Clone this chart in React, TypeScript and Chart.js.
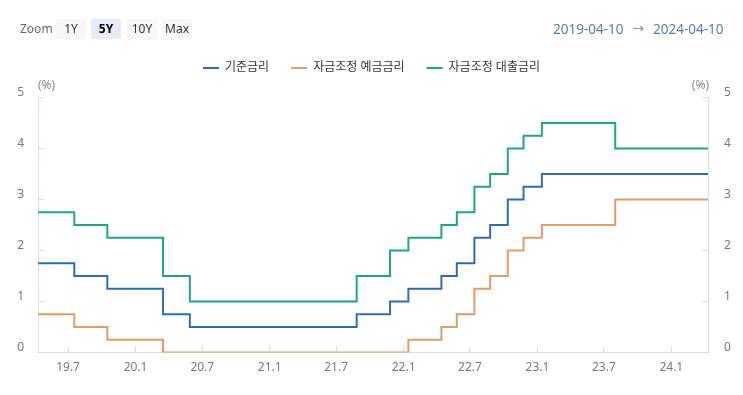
import React, { useEffect, useRef } from 'react';
import { Chart, registerables } from 'chart.js';

Chart.register(...registerables);

// ---------- data ----------
const RANGE_START = '2019-04-10';
const RANGE_END = '2024-04-10';

const BASE_DATES = [
  '2019-04-10', '2019-07-18', '2019-10-16', '2020-03-16', '2020-05-28', '2021-08-26',
  '2021-11-25', '2022-01-14', '2022-04-14', '2022-05-26', '2022-07-13', '2022-08-25',
  '2022-10-12', '2022-11-24', '2023-01-13', '2024-04-10',
];
const BASE_RATE = [1.75, 1.5, 1.25, 0.75, 0.5, 0.75, 1.0, 1.25, 1.5, 1.75, 2.25, 2.5, 3.0, 3.25, 3.5, 3.5];

const ADJ_DATES = [
  '2019-04-10', '2019-07-18', '2019-10-16', '2020-03-16', '2020-05-28', '2021-08-26',
  '2021-11-25', '2022-01-14', '2022-04-14', '2022-05-26', '2022-07-13', '2022-08-25',
  '2022-10-12', '2022-11-24', '2023-01-13', '2023-08-01', '2024-04-10',
];
const DEPOSIT_RATE = [0.75, 0.5, 0.25, 0, 0, 0, 0, 0.25, 0.5, 0.75, 1.25, 1.5, 2.0, 2.25, 2.5, 3.0, 3.0];
const LENDING_RATE = [2.75, 2.5, 2.25, 1.5, 1.0, 1.5, 2.0, 2.25, 2.5, 2.75, 3.25, 3.5, 4.0, 4.25, 4.5, 4.0, 4.0];

const SERIES_NAMES = ['기준금리', '자금조정 예금금리', '자금조정 대출금리'];

const X_TICK_DATES = [
  '2019-07-01', '2020-01-01', '2020-07-01', '2021-01-01', '2021-07-01',
  '2022-01-01', '2022-07-01', '2023-01-01', '2023-07-01', '2024-01-01',
];
const X_TICK_LABELS = ['19.7', '20.1', '20.7', '21.1', '21.7', '22.1', '22.7', '23.1', '23.7', '24.1'];
const Y_MIN = 0;
const Y_MAX = 5;
const Y_STEP = 1;
const UNIT_LABEL = '(%)';

const ZOOM_LABEL = 'Zoom';
const ZOOM_BUTTONS = ['1Y', '5Y', '10Y', 'Max'];
const ZOOM_SELECTED = '5Y';
const RANGE_ARROW = '→';

// ---------- styles ----------
const FONT = '"Noto Sans", "Noto Sans CJK KR", sans-serif';
const COLORS = ['#2b6cb5', '#e39c66', '#1fa68a'];
const AXIS_COLOR = '#d6ddeb';
const TICK_TEXT = '#777777';

const W = 743;
const H = 395;

const toPoints = (dates: string[], vals: number[]) =>
  dates.map((d, i) => ({ x: Date.parse(d), y: vals[i] }));

const legendFixPlugin = {
  id: 'legendFix',
  beforeLayout(chart: any) {
    const lg = chart.legend;
    if (lg && !lg._fixed) {
      const orig = lg.fit.bind(lg);
      lg.fit = () => {
        orig();
        lg.height = 57.5;
      };
      lg._fixed = true;
    }
  },
};

const unitPlugin = {
  id: 'unitLabels',
  afterDraw(chart: any) {
    const { ctx, chartArea } = chart;
    ctx.save();
    ctx.font = `12px ${FONT}`;
    ctx.fillStyle = '#888888';
    ctx.textBaseline = 'middle';
    ctx.textAlign = 'left';
    ctx.fillText(UNIT_LABEL, chartArea.left, 86);
    ctx.textAlign = 'right';
    ctx.fillText(UNIT_LABEL, chartArea.right + 1, 86);
    ctx.restore();
  },
};

export default function App() {
  const ref = useRef<HTMLCanvasElement>(null);

  useEffect(() => {
    const values = [
      toPoints(BASE_DATES, BASE_RATE),
      toPoints(ADJ_DATES, DEPOSIT_RATE),
      toPoints(ADJ_DATES, LENDING_RATE),
    ];
    const chart = new Chart(ref.current as HTMLCanvasElement, {
      type: 'line',
      data: {
        datasets: values.map((data, i) => ({
          label: SERIES_NAMES[i],
          data,
          borderColor: COLORS[i],
          backgroundColor: COLORS[i],
          borderWidth: 2,
          pointRadius: 0,
          pointHoverRadius: 0,
          stepped: 'before' as const,
          fill: false,
          yAxisID: 'y',
        })),
      },
      options: {
        responsive: false,
        animation: false,
        devicePixelRatio: 1,
        events: [],
        layout: { padding: { top: 40, left: 0, right: 0, bottom: 0 } },
        plugins: {
          tooltip: { enabled: false },
          legend: {
            display: true,
            position: 'top',
            align: 'center',
            labels: {
              usePointStyle: true,
              pointStyle: 'line',
              pointStyleWidth: 16,
              padding: 22,
              color: '#333333',
              font: { size: 12, family: FONT },
            },
          },
        },
        scales: {
          x: {
            type: 'linear',
            position: 'bottom',
            min: Date.parse(RANGE_START),
            max: Date.parse(RANGE_END),
            afterBuildTicks: (s: any) => {
              s.ticks = X_TICK_DATES.map((d) => ({ value: Date.parse(d) }));
            },
            afterFit: (s: any) => {
              s.height = H - 352.5;
            },
            ticks: {
              autoSkip: false,
              maxRotation: 0,
              minRotation: 0,
              padding: 14,
              color: TICK_TEXT,
              font: { size: 12, family: FONT },
              callback: (_v: any, i: number) => X_TICK_LABELS[i],
            },
            grid: { display: true, drawOnChartArea: false, drawTicks: true, tickLength: -6, color: AXIS_COLOR },
            border: { display: true, color: AXIS_COLOR, width: 1 },
          },
          y: {
            type: 'linear',
            position: 'left',
            min: Y_MIN,
            max: Y_MAX,
            afterFit: (s: any) => {
              s.width = 38;
            },
            ticks: {
              stepSize: Y_STEP,
              padding: 20,
              labelOffset: -5,
              color: TICK_TEXT,
              font: { size: 12, family: FONT },
            },
            grid: { display: true, drawOnChartArea: false, drawTicks: true, tickLength: -6, color: AXIS_COLOR },
            border: { display: true, color: AXIS_COLOR, width: 1 },
          },
          y2: {
            type: 'linear',
            position: 'right',
            min: Y_MIN,
            max: Y_MAX,
            afterFit: (s: any) => {
              s.width = 35;
            },
            ticks: {
              stepSize: Y_STEP,
              padding: 22,
              labelOffset: -5,
              color: TICK_TEXT,
              font: { size: 12, family: FONT },
            },
            grid: { display: true, drawOnChartArea: false, drawTicks: true, tickLength: -6, color: AXIS_COLOR },
            border: { display: true, color: AXIS_COLOR, width: 1 },
          },
        },
      },
      plugins: [legendFixPlugin, unitPlugin],
    } as any);
    return () => chart.destroy();
  }, []);

  const btnLefts = [56, 91, 127, 162];
  const rangeStyle: React.CSSProperties = {
    position: 'absolute',
    top: 19,
    height: 20,
    lineHeight: '20px',
    fontSize: 13.5,
    color: '#5a78b5',
    whiteSpace: 'pre',
  };

  return (
    <div
      style={{
        position: 'fixed',
        left: 0,
        top: 0,
        width: W,
        height: H,
        background: '#ffffff',
        fontFamily: FONT,
        overflow: 'hidden',
      }}
    >
      <canvas ref={ref} width={W} height={H} style={{ position: 'absolute', left: 0, top: 0, width: W, height: H }} />
      <div style={{ position: 'absolute', left: 20, top: 19, height: 20, lineHeight: '20px', fontSize: 12, color: '#666' }}>
        {ZOOM_LABEL}
      </div>
      {ZOOM_BUTTONS.map((b, i) => (
        <div
          key={b}
          style={{
            position: 'absolute',
            left: btnLefts[i],
            top: 19,
            width: 30,
            height: 20,
            lineHeight: '20px',
            textAlign: 'center',
            fontSize: 12,
            borderRadius: 2,
            background: b === ZOOM_SELECTED ? '#e6ebf5' : '#f7f7f7',
            color: b === ZOOM_SELECTED ? '#000' : '#333',
            fontWeight: b === ZOOM_SELECTED ? 700 : 400,
          }}
        >
          {b}
        </div>
      ))}
      <div style={{ ...rangeStyle, left: 553 }}>{RANGE_START}</div>
      <div style={{ ...rangeStyle, left: 633, fontSize: 11 }}>{RANGE_ARROW}</div>
      <div style={{ ...rangeStyle, left: 653 }}>{RANGE_END}</div>
    </div>
  );
}
